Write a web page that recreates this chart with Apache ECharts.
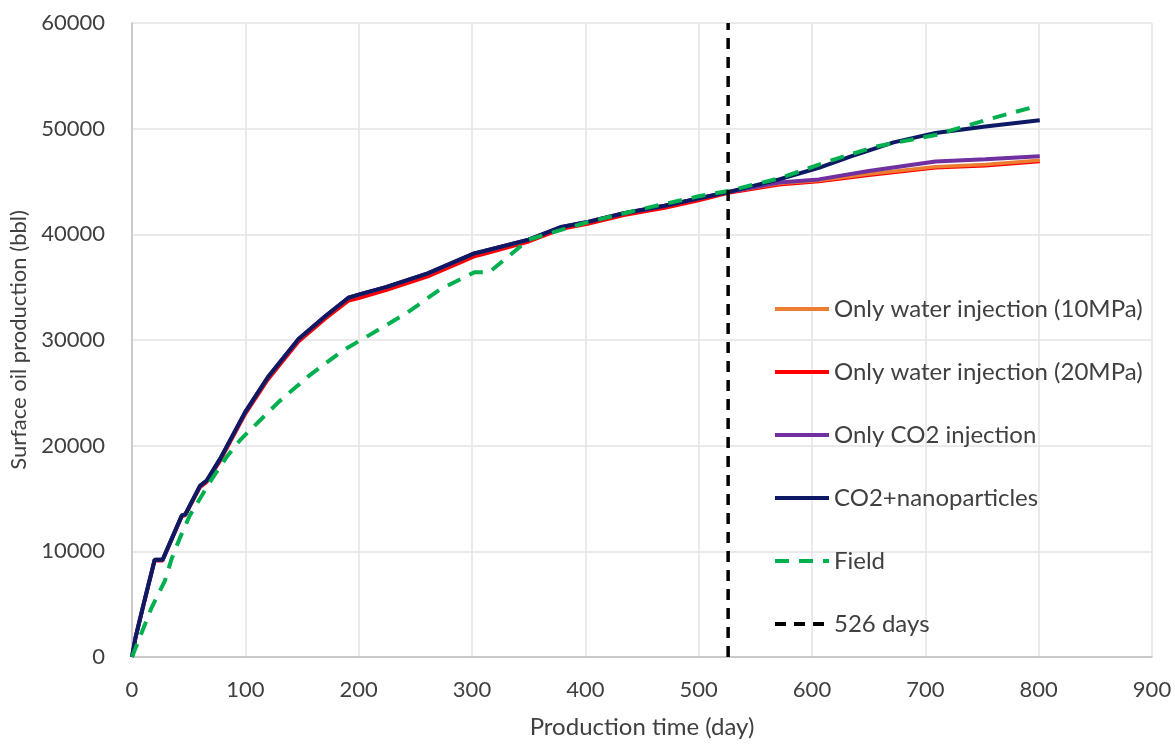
<!DOCTYPE html>
<html><head><meta charset="utf-8">
<script src="https://cdn.jsdelivr.net/npm/echarts@6/dist/echarts.min.js"></script>
<style>html,body{margin:0;padding:0;background:#fff}#c{width:1175px;height:744px}</style>
</head><body><div id="c"></div>
<script>
// ---- data ----
const navyDays = [0, 3, 10, 20, 27, 44, 47, 60, 66, 78, 100, 120, 147, 171, 191, 200, 224, 261, 302, 310, 350, 379, 403, 434, 470, 500, 526, 571, 606, 635, 672, 709, 753, 801];
const navyVals = [0, 1800, 4900, 9200, 9200, 13400, 13500, 16200, 16700, 18800, 23200, 26500, 30100, 32300, 34000, 34300, 35000, 36300, 38200, 38400, 39500, 40700, 41200, 42000, 42700, 43400, 44000, 45200, 46300, 47400, 48700, 49600, 50200, 50800];

const preDays = [0, 3, 10, 20, 27, 44, 47, 60, 66, 78, 100, 120, 147, 171, 191, 200, 224, 261, 302, 310, 350, 379, 403, 434, 470, 500, 526];
const redPre = [0, 1700, 4800, 9100, 9100, 13300, 13400, 16050, 16550, 18600, 23000, 26250, 29850, 32050, 33700, 33950, 34700, 36000, 37900, 38100, 39300, 40500, 41000, 41800, 42500, 43200, 43900];
const postDays = [571, 606, 650, 709, 753, 801];
const redPost = [44700, 45000, 45600, 46300, 46500, 46900];
const orangePost = [44800, 45100, 45700, 46400, 46600, 47000];
const purplePost = [44900, 45200, 46000, 46900, 47100, 47400];

const fieldDays = [0, 10, 17, 29, 35, 42, 51, 69, 84, 96, 129, 156, 186, 218, 243, 272, 302, 315, 332, 350, 400, 450, 500, 526, 571, 620, 656, 709, 753, 797];
const fieldVals = [0, 2700, 4600, 7200, 9300, 11200, 13400, 16600, 19000, 20600, 24100, 26600, 29000, 31000, 32600, 34800, 36400, 36400, 37900, 39500, 41100, 42400, 43600, 44100, 45300, 47100, 48300, 49400, 50800, 52100];

const markDays = [526, 526];
const markVals = [0, 60000];

const xTicks = [0, 100, 200, 300, 400, 500, 600, 700, 800, 900];
const yTicks = [0, 10000, 20000, 30000, 40000, 50000, 60000];

// ---- build ----
const zip = (a, b) => a.map((d, i) => [d, b[i]]);
const redData = zip(preDays, redPre).concat(zip(postDays, redPost));
const orangeData = zip(preDays, navyVals.slice(0, preDays.length)).concat(zip(postDays, orangePost));
const purpleData = zip(preDays, navyVals.slice(0, preDays.length)).concat(zip(postDays, purplePost));
const navyData = zip(navyDays, navyVals);
const fieldData = zip(fieldDays, fieldVals);
const markData = zip(markDays, markVals);

const FONT = 'Lato';
const TXT = '#404040';
const chart = echarts.init(document.getElementById('c'));
const lineS = (name, data, color, width, type, z) => ({
  name, type: 'line', data, symbol: 'none', z,
  lineStyle: { color, width, type: type || 'solid', cap: 'butt' },
  itemStyle: { color }, emphasis: { disabled: true }, animation: false
});
chart.setOption({
  animation: false,
  textStyle: { fontFamily: FONT },
  grid: { left: 132, right: 23, top: 23, bottom: 85, containLabel: false },
  xAxis: {
    type: 'value', min: xTicks[0], max: xTicks[xTicks.length - 1], interval: 100,
    name: 'Production time (day)', nameLocation: 'middle', nameGap: 58,
    nameTextStyle: { fontSize: 24, color: TXT, fontFamily: FONT },
    axisLine: { show: true, lineStyle: { color: '#bfbfbf', width: 1.5 } },
    axisTick: { show: false },
    axisLabel: { fontSize: 22, color: TXT, margin: 22, fontFamily: FONT },
    splitLine: { show: true, lineStyle: { color: '#e3e3e3', width: 1.5 } }
  },
  yAxis: {
    type: 'value', min: yTicks[0], max: yTicks[yTicks.length - 1], interval: 10000,
    name: 'Surface oil production (bbl)', nameLocation: 'middle', nameGap: 101,
    nameTextStyle: { fontSize: 22, color: TXT, fontFamily: FONT },
    axisLine: { show: true, lineStyle: { color: '#bfbfbf', width: 1.5 } },
    axisTick: { show: false },
    axisLabel: { fontSize: 22, color: TXT, margin: 27, fontFamily: FONT, formatter: v => String(v) },
    splitLine: { show: true, lineStyle: { color: '#e3e3e3', width: 1.5 } }
  },
  legend: {
    orient: 'vertical', left: 768, top: 292, itemGap: 39, itemWidth: 54, itemHeight: 14,
    itemStyle: { opacity: 0 },
    lineStyle: { width: 4 },
    textStyle: { fontSize: 24, lineHeight: 24, color: TXT, fontFamily: FONT },
    data: ['Only water injection (10MPa)', 'Only water injection (20MPa)', 'Only CO2 injection', 'CO2+nanoparticles', 'Field', '526 days']
  },
  series: [
    lineS('Only water injection (20MPa)', redData, '#ff0000', 3.5, 'solid', 2),
    lineS('Only water injection (10MPa)', orangeData, '#ed7d31', 3.5, 'solid', 3),
    lineS('Only CO2 injection', purpleData, '#7030a0', 4, 'solid', 4),
    lineS('CO2+nanoparticles', navyData, '#0d1a63', 4, 'solid', 5),
    lineS('Field', fieldData, '#00b050', 4, [14, 10], 6),
    lineS('526 days', markData, '#000000', 3.5, [11, 8], 7)
  ]
});
</script></body></html>
